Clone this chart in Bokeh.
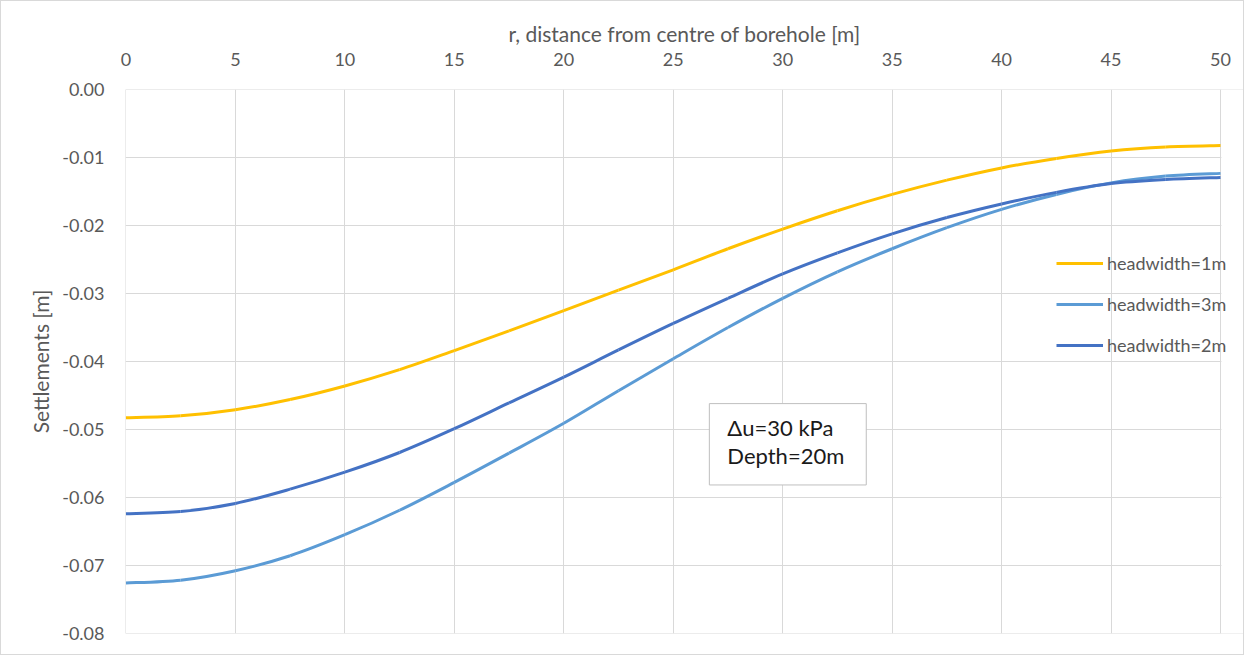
from bokeh.plotting import figure
from bokeh.models import Range1d, FixedTicker, Legend, LegendItem, Label, NumeralTickFormatter, BoxAnnotation
from bokeh.embed import file_html
from bokeh.resources import INLINE

r = [0, 2.5, 5, 7.5, 10, 12.5, 15, 17.5, 20, 22.5, 25, 27.5, 30, 32.5, 35, 37.5, 40, 42.5, 45, 47.5, 50]
hw1 = [-0.0483, -0.0480, -0.0471, -0.0456, -0.0436, -0.0412, -0.0384, -0.0355, -0.0325, -0.0295, -0.0265,
       -0.0234, -0.0205, -0.0178, -0.0154, -0.0133, -0.0115, -0.0101, -0.0090, -0.0084, -0.0082]
hw3 = [-0.0726, -0.0722, -0.0708, -0.0686, -0.0655, -0.0619, -0.0578, -0.0535, -0.0491, -0.0443, -0.0396,
       -0.0350, -0.0307, -0.0268, -0.0234, -0.0203, -0.0176, -0.0154, -0.0137, -0.0127, -0.0123]
hw2 = [-0.0624, -0.0621, -0.0609, -0.0588, -0.0563, -0.0534, -0.0499, -0.0461, -0.0423, -0.0383, -0.0344,
       -0.0307, -0.0271, -0.0240, -0.0212, -0.0188, -0.0168, -0.0151, -0.0138, -0.0132, -0.0129]
labels = ["headwidth=1m", "headwidth=3m", "headwidth=2m"]
colors = ["#ffc000", "#5b9bd5", "#4472c4"]
x_ticks = [0, 5, 10, 15, 20, 25, 30, 35, 40, 45, 50]
y_ticks = [0.0, -0.01, -0.02, -0.03, -0.04, -0.05, -0.06, -0.07, -0.08]

FONT = "Lato"
GRAY = "#595959"
GRID = "#d9d9d9"

# frame geometry: the axis region (0..50) spans 1095 px, the frame continues to the right
# so that the legend (which overhangs x=50 in the original) is not clipped
W, H = 1244, 655
LEFT, TOP, RIGHT, BOTTOM = 124, 88, 2, 23
AXIS_PX = 1095
frame_w = W - LEFT - RIGHT
x_end = 50 * frame_w / AXIS_PX


def smooth_segments(xs, ys):
    """Catmull-Rom style control points (like a smoothed spreadsheet line)."""
    n = len(xs)
    d = dict(x0=[], y0=[], x1=[], y1=[], cx0=[], cy0=[], cx1=[], cy1=[])
    for i in range(n - 1):
        im, ip2 = max(i - 1, 0), min(i + 2, n - 1)
        d["x0"].append(xs[i]); d["y0"].append(ys[i])
        d["x1"].append(xs[i + 1]); d["y1"].append(ys[i + 1])
        d["cx0"].append(xs[i] + (xs[i + 1] - xs[im]) / 6)
        d["cy0"].append(ys[i] + (ys[i + 1] - ys[im]) / 6)
        d["cx1"].append(xs[i + 1] - (xs[ip2] - xs[i]) / 6)
        d["cy1"].append(ys[i + 1] - (ys[ip2] - ys[i]) / 6)
    return d


p = figure(width=W, height=H, output_backend="svg", toolbar_location=None,
           x_range=Range1d(-0.02, x_end), y_range=Range1d(-0.08005, 0.00005),
           x_axis_location="above", min_border_left=LEFT, min_border_top=TOP,
           min_border_right=RIGHT, min_border_bottom=BOTTOM)
p.styles = {"border": "1px solid #d9d9d9"}
p.outline_line_color = None

p.xaxis.ticker = FixedTicker(ticks=x_ticks)
p.yaxis.ticker = FixedTicker(ticks=y_ticks)
p.yaxis.formatter = NumeralTickFormatter(format="0.00")
for ax in (p.xaxis[0], p.yaxis[0]):
    ax.axis_line_color = None
    ax.major_tick_line_color = None
    ax.minor_tick_line_color = None
    ax.major_label_text_font = FONT
    ax.major_label_text_font_size = "18px"
    ax.major_label_text_color = GRAY
    ax.axis_label_text_font = FONT
    ax.axis_label_text_font_size = "21px"
    ax.axis_label_text_color = GRAY
    ax.axis_label_text_font_style = "normal"
p.xaxis.axis_label = "r, distance from centre of borehole [m]"
p.yaxis.axis_label = "Settlements [m]"
p.xaxis.major_label_standoff = 18
p.xaxis.axis_label_standoff = 4
p.yaxis.major_label_standoff = 15
p.yaxis.axis_label_standoff = 6
p.xgrid.grid_line_color = GRID
p.ygrid.grid_line_color = GRID
p.xgrid.ticker = FixedTicker(ticks=x_ticks)
p.ygrid.ticker = FixedTicker(ticks=y_ticks)

# blank out the grid beyond x = 50 (outside the plot area of the original)
p.add_layout(BoxAnnotation(left=50.04, fill_color="white", fill_alpha=1.0,
                           line_color=None, level="glyph"))

items = []
for ys, c, lab in zip([hw1, hw3, hw2], colors, labels):
    rend = p.bezier(source=smooth_segments(r, ys), x0="x0", y0="y0", x1="x1", y1="y1",
                    cx0="cx0", cy0="cy0", cx1="cx1", cy1="cy1", line_color=c, line_width=3)
    items.append(LegendItem(label=lab, renderers=[rend]))

legend = Legend(items=items, location=(931, 277), glyph_width=47, glyph_height=20,
                label_height=20, spacing=19,
                label_text_font=FONT, label_text_font_size="18px", label_text_color=GRAY,
                label_standoff=4, background_fill_alpha=0, border_line_alpha=0,
                padding=0, margin=0)
p.add_layout(legend, "center")

box = Label(x=26.65, y=-0.0462, text="Δu=30 kPa\nDepth=20m", text_font=FONT,
            text_font_size="22px", text_line_height=1.05, text_color="#1a1a1a",
            text_align="left", text_baseline="top",
            background_fill_color="white", border_line_color="#bfbfbf", border_line_width=1,
            padding=dict(left=18, right=22, top=10, bottom=16))
p.add_layout(box)

open("out.html", "w").write(file_html(p, INLINE))
